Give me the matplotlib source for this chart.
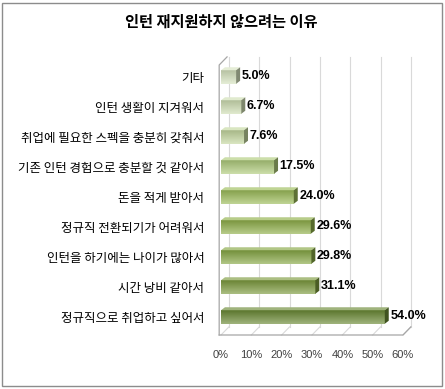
import numpy as np
import matplotlib
matplotlib.use("Agg")
import matplotlib.pyplot as plt
from matplotlib.patches import Polygon, Rectangle
from matplotlib.colors import to_rgb

plt.rcParams['font.family'] = ['Noto Sans CJK KR', 'DejaVu Sans']

# data, bottom to top
reasons = ['정규직으로 취업하고 싶어서', '시간 낭비 같아서', '인턴을 하기에는 나이가 많아서',
           '정규직 전환되기가 어려워서', '돈을 적게 받아서', '기존 인턴 경험으로 충분할 것 같아서',
           '취업에 필요한 스펙을 충분히 갖춰서', '인턴 생활이 지겨워서', '기타']
values = [54.0, 31.1, 29.8, 29.6, 24.0, 17.5, 7.6, 6.7, 5.0]
xticks = [0, 10, 20, 30, 40, 50, 60]

colors = ['#6b8a35', '#7d9b3e', '#87a845', '#90b04a', '#9dbd5a',
          '#b0cc7c', '#c5d8a0', '#d0dfb4', '#d7e4c0']

W, H = 445, 389
fig = plt.figure(figsize=(W / 100, H / 100), dpi=100)

# axes placed so that 0% sits at px 221, 60% at px 403
L, R, T, B = 221, 403, 62, 332
ax = fig.add_axes([L / W, 1 - B / H, (R - L) / W, (B - T) / H])
ax.set_xlim(0, 60)
ax.set_ylim(-0.5, len(values) - 0.5)
for s in ax.spines.values():
    s.set_visible(False)
ax.patch.set_visible(False)

# pseudo 3d frame
dx, dy = 2.6, 0.27
yf = -0.6
ytop = 8.4
wall = '#a6a6a6'
grid = '#d9d9d9'
for k in xticks:
    ax.plot([k + dx, k + dx], [yf + dy, ytop + dy], color=grid, lw=0.8, zorder=1, clip_on=False)
    ax.plot([k, k + dx], [yf, yf + dy], color=grid, lw=0.8, zorder=1, clip_on=False)
ax.plot([-0.6, -0.6, dx - 0.6], [yf, ytop, ytop + dy], color=wall, lw=0.9, zorder=2, clip_on=False)
ax.plot([-0.6, 60, 60 + dx], [yf, yf, yf + dy], color=wall, lw=0.9, zorder=2, clip_on=False)

# bars
h = 0.45
bdx, bdy = 1.3, 0.1
for i, (v, c) in enumerate(zip(values, colors)):
    base = np.array(to_rgb(c))
    light = base + (1 - base) * 0.35
    dark = base * 0.85
    grad = np.linspace(0, 1, 32)[:, None, None]
    img = light * (1 - grad) + dark * grad
    ax.imshow(img, extent=(0, v, i + h / 2, i - h / 2), aspect='auto',
              zorder=3, interpolation='bilinear')
    top = [(0, i + h / 2), (v, i + h / 2), (v + bdx, i + h / 2 + bdy), (bdx, i + h / 2 + bdy)]
    ax.add_patch(Polygon(top, closed=True, fc=light, ec='none', zorder=3))
    side = [(v, i - h / 2), (v, i + h / 2), (v + bdx, i + h / 2 + bdy), (v + bdx, i - h / 2 + bdy)]
    ax.add_patch(Polygon(side, closed=True, fc=base * 0.6, ec='none', zorder=3))
    ax.text(v + bdx + 0.5, i + 0.02, f'{v:.1f}%', ha='left', va='center',
            fontsize=9, fontweight='bold', family='Liberation Sans', zorder=4)

ax.set_xlim(0, 60)
ax.set_ylim(-0.5, len(values) - 0.5)

ax.set_yticks(range(len(reasons)))
ax.set_yticklabels(reasons, fontsize=9)
ax.set_xticks(xticks)
ax.set_xticklabels([f'{k}%' for k in xticks], fontsize=8, color='#404040',
                   family='Liberation Sans')
ax.tick_params(axis='y', length=0, pad=12)
ax.tick_params(axis='x', length=0, pad=13)

fig.text(0.498, 1 - 22 / H, '인턴 재지원하지 않으려는 이유', ha='center', va='center',
         fontsize=11, fontweight='bold')

fig.add_artist(Rectangle((2 / W, 3 / H), 440 / W, 383 / H, transform=fig.transFigure,
                         fill=False, ec='#8c8c8c', lw=1))

fig.savefig('out.png', dpi=100)
